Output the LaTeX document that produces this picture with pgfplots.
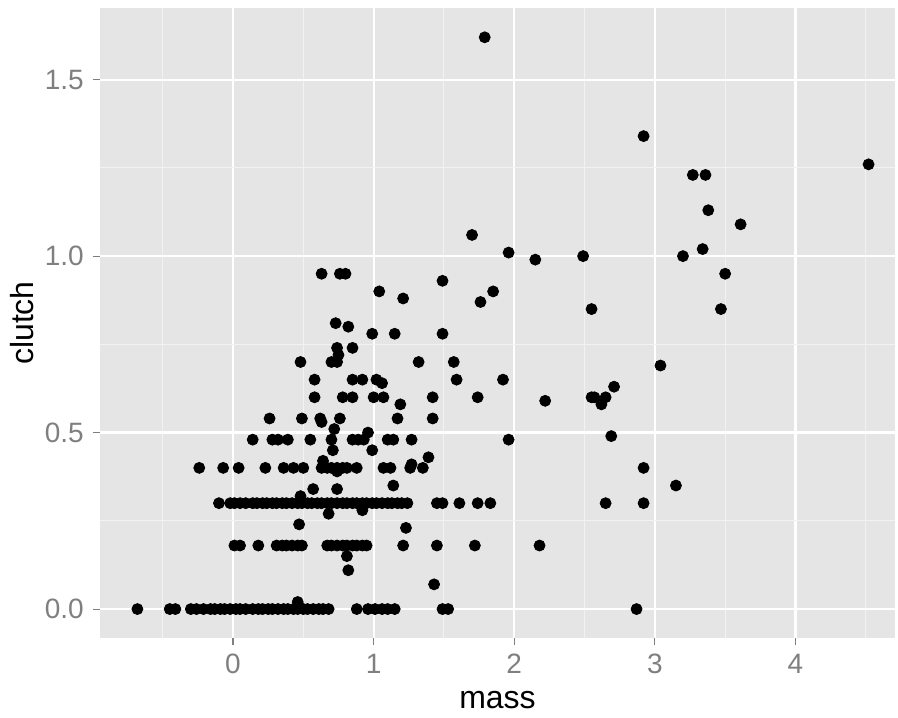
\documentclass[border=0pt]{standalone}
\usepackage{pgfplots}
\pgfplotsset{compat=1.18}
\usepackage{fontspec}
\setmainfont{Liberation Sans}

\definecolor{panelgrey}{HTML}{E5E5E5}
\definecolor{minorgrey}{HTML}{F2F2F2}
\definecolor{tickgrey}{HTML}{7F7F7F}

\begin{document}
\begin{tikzpicture}
% fixed page frame around the panel
\useasboundingbox (-50pt,-39.5pt) rectangle (399pt,319pt);
\begin{axis}[
  at={(0,0)}, anchor=south west,
  scale only axis,
  width=397.5pt, height=315pt,
  xmin=-0.946, xmax=4.708,
  ymin=-0.082, ymax=1.703,
  axis background/.style={fill=panelgrey},
  axis line style={draw=none},
  xtick={0,1,2,3,4},
  ytick={0,0.5,1,1.5},
  yticklabels={0.0,0.5,1.0,1.5},
  minor xtick={-0.5,0.5,1.5,2.5,3.5,4.5},
  minor ytick={0.25,0.75,1.25},
  grid=both,
  major grid style={white, line width=1.1pt},
  minor grid style={minorgrey, line width=0.55pt},
  tick pos=left,
  tick align=outside,
  major tick length=3.6pt,
  minor tick length=0pt,
  major tick style={tickgrey, line width=0.55pt},
  /pgf/number format/assume math mode=true,
  ticklabel style={font=\fontsize{14pt}{16pt}\selectfont, text=tickgrey},
  xticklabel style={yshift=-1pt},
  yticklabel style={xshift=-1pt},
  xlabel={mass},
  ylabel={clutch},
  every axis x label/.style={at={(axis description cs:0.5,0)}, anchor=center,
    yshift=-31pt, font=\fontsize{16pt}{18pt}\selectfont},
  every axis y label/.style={at={(axis description cs:0,0.5)}, anchor=center,
    xshift=-39pt, rotate=90, font=\fontsize{16pt}{18pt}\selectfont},
]
\addplot[only marks, mark=*, mark size=2.75pt, draw=black, fill=black] coordinates {
  % clutch = 0
  (-0.68,0) (-0.45,0) (-0.41,0) (-0.30,0) (-0.26,0) (-0.21,0) (-0.16,0) (-0.13,0)
  (-0.09,0) (-0.06,0) (-0.02,0) (0.02,0) (0.05,0) (0.09,0) (0.14,0) (0.18,0)
  (0.21,0) (0.25,0) (0.28,0) (0.32,0) (0.36,0) (0.39,0) (0.43,0) (0.46,0)
  (0.50,0) (0.53,0) (0.57,0) (0.61,0) (0.64,0) (0.68,0) (0.88,0) (0.96,0)
  (1.01,0) (1.06,0) (1.10,0) (1.15,0) (1.49,0) (1.53,0) (2.87,0)
  (0.46,0.02) (1.43,0.07) (0.82,0.11) (0.81,0.15)
  % clutch = 0.18
  (0.01,0.18) (0.05,0.18) (0.18,0.18) (0.31,0.18) (0.35,0.18) (0.38,0.18) (0.42,0.18)
  (0.46,0.18) (0.49,0.18) (0.67,0.18) (0.70,0.18) (0.74,0.18) (0.78,0.18) (0.81,0.18)
  (0.85,0.18) (0.88,0.18) (0.92,0.18) (0.95,0.18) (1.21,0.18) (1.45,0.18) (1.72,0.18)
  (2.18,0.18)
  (1.23,0.23) (0.47,0.24) (0.68,0.27) (0.92,0.28)
  % clutch = 0.3
  (-0.10,0.3) (-0.02,0.3) (0.01,0.3) (0.05,0.3) (0.09,0.3) (0.14,0.3) (0.17,0.3)
  (0.21,0.3) (0.24,0.3) (0.28,0.3) (0.31,0.3) (0.35,0.3) (0.38,0.3) (0.42,0.3)
  (0.46,0.3) (0.49,0.3) (0.53,0.3) (0.56,0.3) (0.60,0.3) (0.63,0.3) (0.67,0.3)
  (0.70,0.3) (0.74,0.3) (0.78,0.3) (0.81,0.3) (0.85,0.3) (0.88,0.3) (0.92,0.3)
  (0.95,0.3) (0.99,0.3) (1.02,0.3) (1.06,0.3) (1.10,0.3) (1.13,0.3) (1.17,0.3)
  (1.20,0.3) (1.24,0.3) (1.45,0.3) (1.49,0.3) (1.61,0.3) (1.74,0.3) (1.83,0.3)
  (2.65,0.3) (2.92,0.3)
  (0.48,0.32) (0.57,0.34) (0.74,0.34) (1.14,0.35) (3.15,0.35)
  % clutch = 0.4
  (-0.24,0.4) (-0.07,0.4) (0.04,0.4) (0.23,0.4) (0.36,0.4) (0.43,0.4) (0.50,0.4)
  (0.63,0.4) (0.67,0.4) (0.70,0.4) (0.74,0.4) (0.78,0.4) (0.81,0.4) (0.88,0.4)
  (1.07,0.4) (1.12,0.4) (1.26,0.4) (1.35,0.4) (2.92,0.4)
  (0.74,0.39) (1.27,0.41) (0.64,0.42) (1.39,0.43) (0.71,0.45) (0.99,0.45)
  % clutch = 0.48
  (0.14,0.48) (0.28,0.48) (0.32,0.48) (0.39,0.48) (0.55,0.48) (0.70,0.48)
  (0.85,0.48) (0.89,0.48) (0.93,0.48) (1.10,0.48) (1.14,0.48) (1.27,0.48)
  (1.96,0.48) (2.69,0.49) (0.96,0.50) (0.72,0.51)
  % clutch = 0.54
  (0.26,0.54) (0.49,0.54) (0.62,0.54) (0.76,0.54) (1.17,0.54) (1.42,0.54) (0.63,0.53)
  % clutch = 0.6
  (0.58,0.6) (0.78,0.6) (0.85,0.6) (1.00,0.6) (1.07,0.6) (1.42,0.6) (1.74,0.6)
  (2.55,0.6) (2.57,0.6) (2.65,0.6)
  (1.19,0.58) (2.62,0.58) (2.22,0.59) (2.71,0.63)
  % clutch = 0.65
  (0.58,0.65) (0.85,0.65) (0.92,0.65) (1.02,0.65) (1.59,0.65) (1.92,0.65) (1.06,0.64)
  % clutch = 0.7 and above
  (0.48,0.7) (0.70,0.7) (0.74,0.7) (1.32,0.7) (1.57,0.7) (3.04,0.69)
  (0.75,0.72) (0.74,0.74) (0.85,0.74)
  (0.99,0.78) (1.15,0.78) (1.49,0.78) (0.82,0.80) (0.73,0.81)
  (2.55,0.85) (3.47,0.85) (1.76,0.87) (1.21,0.88) (1.04,0.90) (1.85,0.90)
  (1.49,0.93) (0.63,0.95) (0.76,0.95) (0.80,0.95) (3.50,0.95)
  (2.15,0.99) (2.49,1.00) (3.20,1.00) (1.96,1.01) (3.34,1.02) (1.70,1.06)
  (3.61,1.09) (3.38,1.13) (3.27,1.23) (3.36,1.23) (4.52,1.26) (2.92,1.34)
  (1.79,1.62)
};
\end{axis}
\end{tikzpicture}
\end{document}
